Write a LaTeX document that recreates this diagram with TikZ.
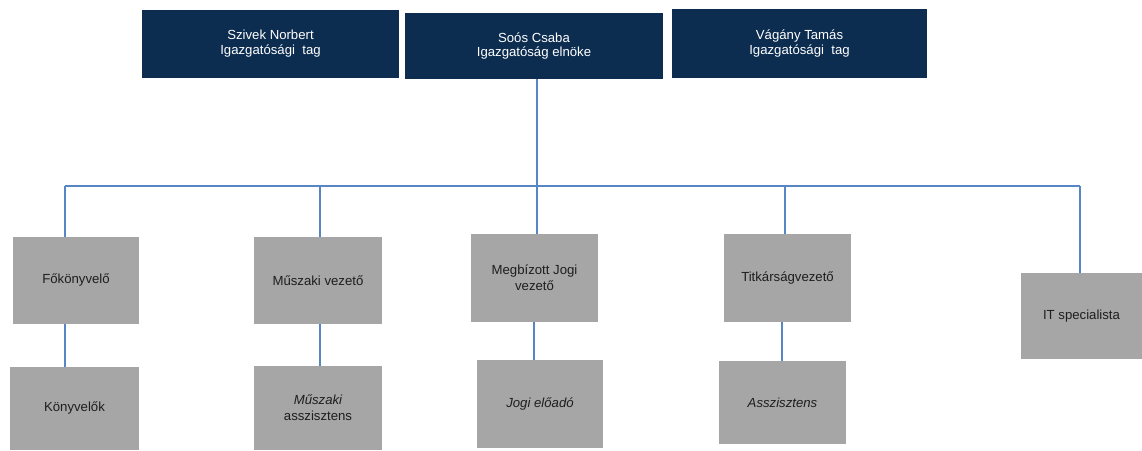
\documentclass[tikz,border=0pt]{standalone}
\usepackage{fontspec}
\setmainfont{Liberation Sans}
\definecolor{navy}{RGB}{12,44,80}
\definecolor{boxgray}{RGB}{166,166,166}
\definecolor{linkblue}{RGB}{86,134,198}
\definecolor{txtdark}{RGB}{30,30,30}
\begin{document}
\begin{tikzpicture}[x=0.02cm,y=-0.02cm,
  topbox/.style={fill=navy,text=white,inner sep=0pt,align=center,
     font=\fontsize{7.5}{8.5}\selectfont},
  graybox/.style={fill=boxgray,text=txtdark,inner sep=0pt,align=center,
     font=\fontsize{7.5}{9}\selectfont},
  link/.style={draw=linkblue,line width=1.1pt}]
\useasboundingbox (0,0) rectangle (1142,450);
% top boards
\node[topbox,minimum width=5.14cm,minimum height=1.36cm] (t1) at (270.5,44) {Szivek Norbert\\Igazgatósági\ \ tag};
\node[topbox,minimum width=5.16cm,minimum height=1.32cm] (t2) at (534,46) {Soós Csaba\\Igazgatóság elnöke};
\node[topbox,minimum width=5.10cm,minimum height=1.38cm] (t3) at (799.5,43.5) {Vágány Tamás\\Igazgatósági\ \ tag};
% second level
\node[graybox,minimum width=2.52cm,minimum height=1.74cm] (fo) at (76,280.5) {Főkönyvelő};
\node[graybox,minimum width=2.56cm,minimum height=1.74cm] (mv) at (318,280.5) {Műszaki vezető};
\node[graybox,minimum width=2.54cm,minimum height=1.76cm] (mj) at (534.5,278) {Megbízott Jogi\\vezető};
\node[graybox,minimum width=2.54cm,minimum height=1.76cm] (ti) at (787.5,278) {Titkárságvezető};
\node[graybox,minimum width=2.42cm,minimum height=1.72cm] (it) at (1081.5,316) {IT specialista};
% third level
\node[graybox,minimum width=2.58cm,minimum height=1.66cm] (ko) at (74.5,408.5) {Könyvelők};
\node[graybox,minimum width=2.56cm,minimum height=1.68cm] (ma) at (318,408) {\itshape Műszaki\\asszisztens};
\node[graybox,minimum width=2.52cm,minimum height=1.76cm] (je) at (540,404) {\itshape Jogi előadó};
\node[graybox,minimum width=2.54cm,minimum height=1.66cm] (as) at (782.5,402.5) {\itshape Asszisztens};
% bar coordinates
\coordinate (b1) at (65,186);
\coordinate (b2) at (320,186);
\coordinate (b3) at (537,186);
\coordinate (b4) at (785,186);
\coordinate (b5) at (1080,186);
\coordinate (c3) at (534,186);
\coordinate (c4) at (782,186);
% connectors
\draw[link] (b3 |- t2.south) -- (b3);
\draw[link] (b1) -- (b5);
\draw[link] (b1) -- (b1 |- fo.north);
\draw[link] (b2) -- (b2 |- mv.north);
\draw[link] (b3) -- (b3 |- mj.north);
\draw[link] (b4) -- (b4 |- ti.north);
\draw[link] (b5) -- (b5 |- it.north);
\draw[link] (b1 |- fo.south) -- (b1 |- ko.north);
\draw[link] (b2 |- mv.south) -- (b2 |- ma.north);
\draw[link] (c3 |- mj.south) -- (c3 |- je.north);
\draw[link] (c4 |- ti.south) -- (c4 |- as.north);
\end{tikzpicture}
\end{document}
